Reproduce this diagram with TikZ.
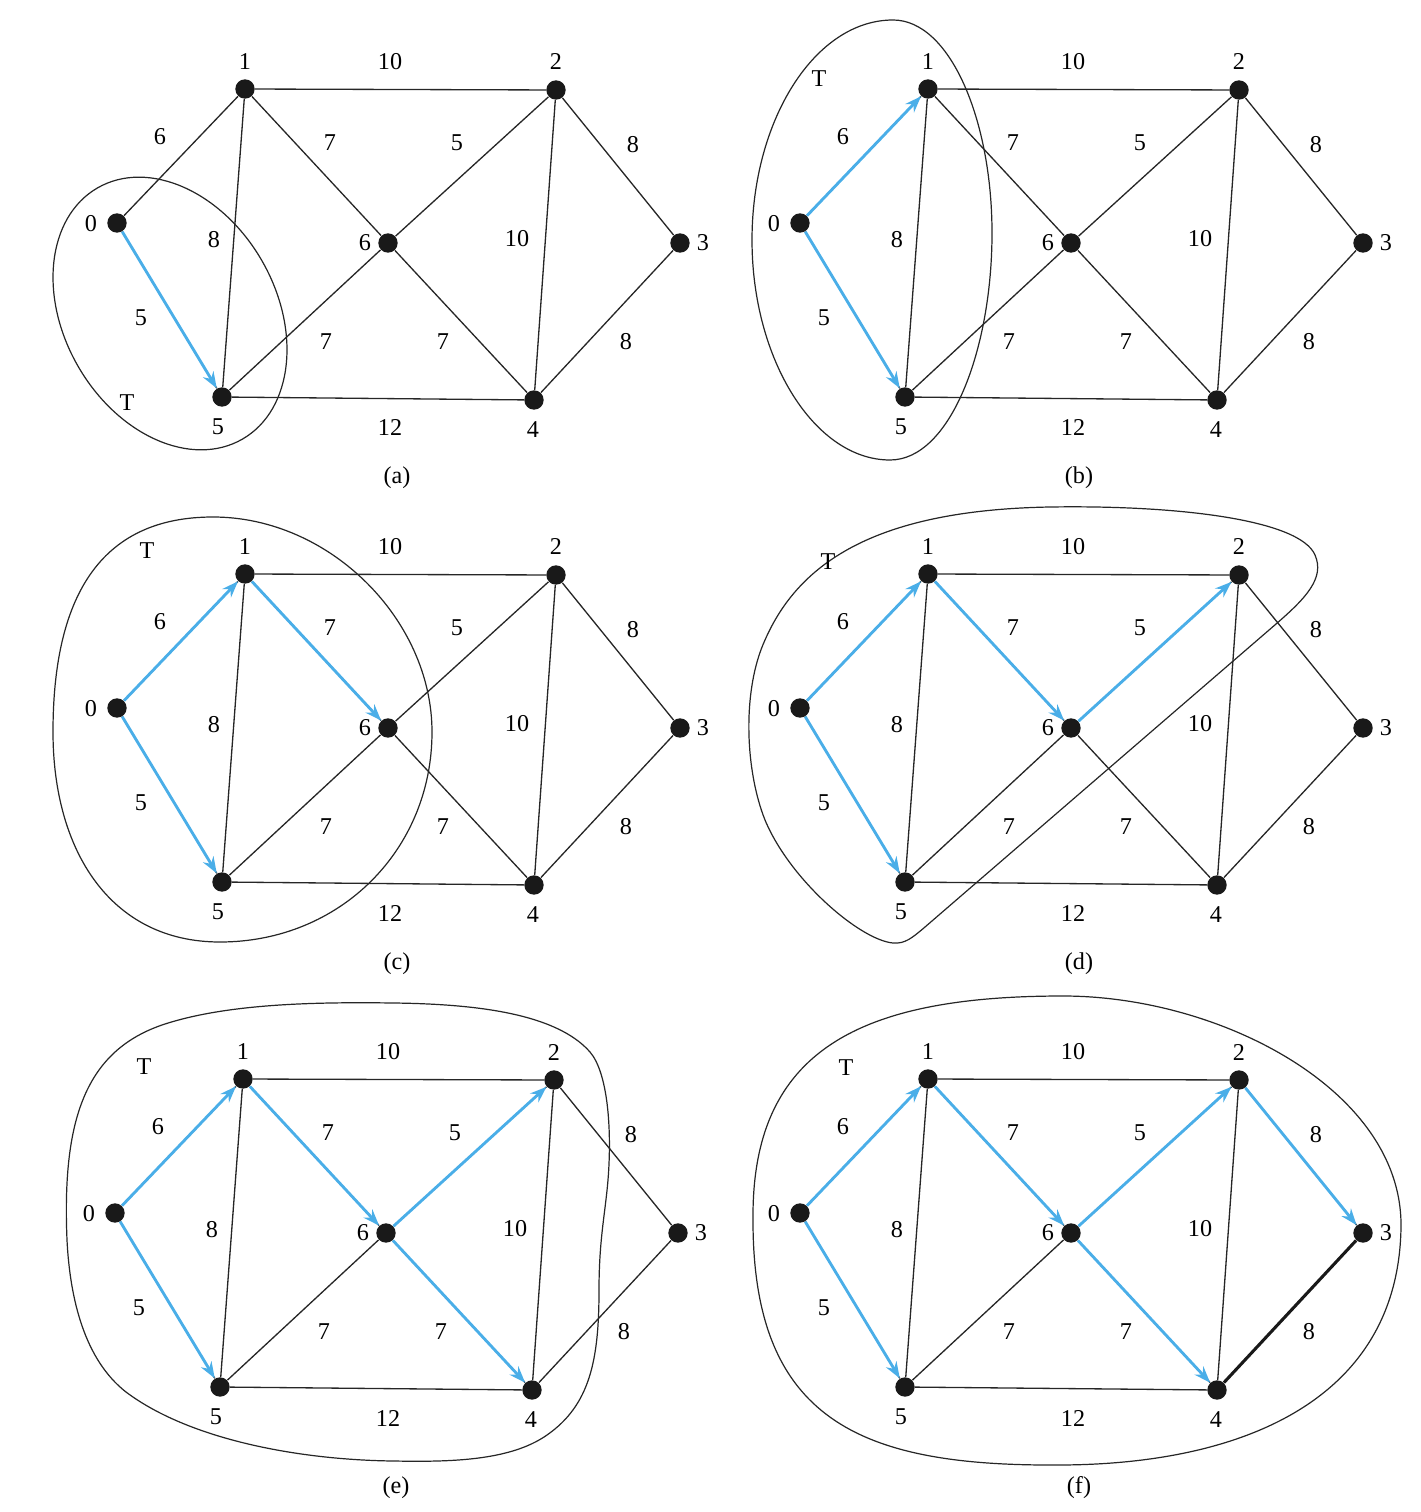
\documentclass[tikz,border=0pt]{standalone}
\usepackage{fontspec}
\setmainfont{Liberation Serif}
\usetikzlibrary{arrows.meta}
\definecolor{treeblue}{RGB}{74,174,232}
\tikzset{
	vertex/.style={circle, fill=black!90, inner sep=0pt, minimum size=0.31cm},
	lbl/.style={inner sep=0pt, font=\fontsize{11}{13}\selectfont},
	plainedge/.style={line width=0.6pt, color=black!85},
	treeedge/.style={line width=1.3pt, color=treeblue, -{Stealth[length=7.5pt, width=5.5pt, inset=2.5pt]}},
	tset/.style={line width=0.55pt, color=black!85},
}
% one copy of the weighted graph, names prefixed by #1, shifted by (#2,#3)
\newcommand{\primgraph}[3]{%
	\begin{scope}[shift={(#2,#3)}]
		\node[vertex] (#1-0) at (117, 223) {};
		\node[vertex] (#1-1) at (245, 89) {};
		\node[vertex] (#1-2) at (556, 90) {};
		\node[vertex] (#1-3) at (680, 243) {};
		\node[vertex] (#1-4) at (534, 400) {};
		\node[vertex] (#1-5) at (222, 397) {};
		\node[vertex] (#1-6) at (388, 243) {};
		
		\node[lbl] (#1-n0) at (91, 224) {0};
		\node[lbl] (#1-n1) at (245, 62) {1};
		\node[lbl] (#1-n2) at (556, 62) {2};
		\node[lbl] (#1-n3) at (703, 243) {3};
		\node[lbl] (#1-n4) at (533, 430) {4};
		\node[lbl] (#1-n5) at (218, 427) {5};
		\node[lbl] (#1-n6) at (365, 243) {6};
		
		\node[lbl] (#1-w01) at (160, 137) {6};
		\node[lbl] (#1-w05) at (141, 318) {5};
		\node[lbl] (#1-w12) at (390, 62) {10};
		\node[lbl] (#1-w16) at (330, 143) {7};
		\node[lbl] (#1-w15) at (214, 240) {8};
		\node[lbl] (#1-w26) at (457, 143) {5};
		\node[lbl] (#1-w23) at (633, 145) {8};
		\node[lbl] (#1-w24) at (517, 239) {10};
		\node[lbl] (#1-w56) at (326, 342) {7};
		\node[lbl] (#1-w64) at (443, 342) {7};
		\node[lbl] (#1-w34) at (626, 342) {8};
		\node[lbl] (#1-w54) at (390, 428) {12};
		
		\draw[plainedge] (#1-0) -- (#1-1);
		\draw[plainedge] (#1-0) -- (#1-5);
		\draw[plainedge] (#1-1) -- (#1-2);
		\draw[plainedge] (#1-1) -- (#1-6);
		\draw[plainedge] (#1-1) -- (#1-5);
		\draw[plainedge] (#1-2) -- (#1-6);
		\draw[plainedge] (#1-2) -- (#1-3);
		\draw[plainedge] (#1-2) -- (#1-4);
		\draw[plainedge] (#1-5) -- (#1-6);
		\draw[plainedge] (#1-6) -- (#1-4);
		\draw[plainedge] (#1-3) -- (#1-4);
		\draw[plainedge] (#1-5) -- (#1-4);
	\end{scope}}

\begin{document}
\begin{tikzpicture}[x=0.016cm, y=-0.016cm]
			%%%%% START %%%%%
			\useasboundingbox (0, 0) rectangle (1420, 1512);
			
			% (a)
			\primgraph{a}{0}{0}
			\draw[treeedge] (a-0) -- (a-5);
			\draw[tset, rotate around={-60:(170, 313.5)}] (170, 313.5) ellipse [x radius=145, y radius=106];
			\node[lbl] (a-T) at (127, 403) {T};
			\node[lbl] (a-cap) at (397, 478) {(a)};
			
			% (b)
			\primgraph{b}{683}{0}
			\draw[treeedge] (b-0) -- (b-1);
			\draw[treeedge] (b-0) -- (b-5);
			\draw[tset] (752, 240) .. controls (752, 120) and (815, 20) .. (893, 20)
				.. controls (950, 20) and (992, 120) .. (992, 233)
				.. controls (992, 350) and (950, 460) .. (890, 460)
				.. controls (815, 460) and (752, 360) .. cycle;
			\node[lbl] (b-T) at (819, 79) {T};
			\node[lbl] (b-cap) at (1079, 478) {(b)};
			
			% (c)
			\primgraph{c}{0}{485}
			\draw[treeedge] (c-0) -- (c-1);
			\draw[treeedge] (c-0) -- (c-5);
			\draw[treeedge] (c-1) -- (c-6);
			\draw[tset] (53, 732) .. controls (53, 590) and (105, 517) .. (213, 517)
				.. controls (330, 517) and (432, 620) .. (432, 732)
				.. controls (432, 850) and (340, 942) .. (220, 942)
				.. controls (110, 942) and (53, 850) .. cycle;
			\node[lbl] (c-T) at (147, 551) {T};
			\node[lbl] (c-cap) at (397, 964) {(c)};
			
			% (d)
			\primgraph{d}{683}{485}
			\draw[treeedge] (d-0) -- (d-1);
			\draw[treeedge] (d-0) -- (d-5);
			\draw[treeedge] (d-1) -- (d-6);
			\draw[treeedge] (d-6) -- (d-2);
			\draw[tset] (1276, 624) -- (925, 927)
				.. controls (912, 938) and (905, 944) .. (893, 943)
				.. controls (860, 940) and (790, 880) .. (765, 820)
				.. controls (745, 770) and (742, 690) .. (765, 640)
				.. controls (800, 560) and (880, 510) .. (1050, 507)
				.. controls (1180, 505) and (1300, 520) .. (1315, 555)
				.. controls (1325, 578) and (1306, 598) .. cycle;
			\node[lbl] (d-T) at (828, 562) {T};
			\node[lbl] (d-cap) at (1079, 964) {(d)};
			
			% (e)
			\primgraph{e}{-2}{990}
			\draw[treeedge] (e-0) -- (e-1);
			\draw[treeedge] (e-0) -- (e-5);
			\draw[treeedge] (e-1) -- (e-6);
			\draw[treeedge] (e-6) -- (e-2);
			\draw[treeedge] (e-6) -- (e-4);
			\draw[tset] (67, 1240) .. controls (62, 1120) and (85, 1050) .. (165, 1024)
				.. controls (230, 1003) and (320, 1002) .. (394, 1003)
				.. controls (470, 1004) and (555, 1012) .. (590, 1052)
				.. controls (608, 1073) and (612, 1130) .. (608, 1180)
				.. controls (605, 1215) and (599, 1240) .. (599, 1290)
				.. controls (599, 1360) and (590, 1405) .. (547, 1435)
				.. controls (510, 1461) and (450, 1462) .. (394, 1461)
				.. controls (300, 1460) and (190, 1440) .. (126, 1392)
				.. controls (85, 1360) and (70, 1300) .. cycle;
			\node[lbl] (e-T) at (144, 1067) {T};
			\node[lbl] (e-cap) at (396, 1488) {(e)};
			
			% (f)
			\primgraph{f}{683}{990}
			\draw[treeedge] (f-0) -- (f-1);
			\draw[treeedge] (f-0) -- (f-5);
			\draw[treeedge] (f-1) -- (f-6);
			\draw[treeedge] (f-6) -- (f-2);
			\draw[treeedge] (f-6) -- (f-4);
			\draw[treeedge] (f-2) -- (f-3);
			\draw[line width=1.4pt, color=black!90] (f-4) -- (f-3);
			\draw[tset] (753, 1218) .. controls (752, 1050) and (860, 996) .. (1063, 996)
				.. controls (1220, 996) and (1401, 1090) .. (1401, 1225)
				.. controls (1400, 1395) and (1250, 1465) .. (1057, 1465)
				.. controls (860, 1466) and (752, 1420) .. cycle;
			\node[lbl] (f-T) at (846, 1068) {T};
			\node[lbl] (f-cap) at (1079, 1488) {(f)};
			
			%%%%% END %%%%%
\end{tikzpicture}
\end{document}
